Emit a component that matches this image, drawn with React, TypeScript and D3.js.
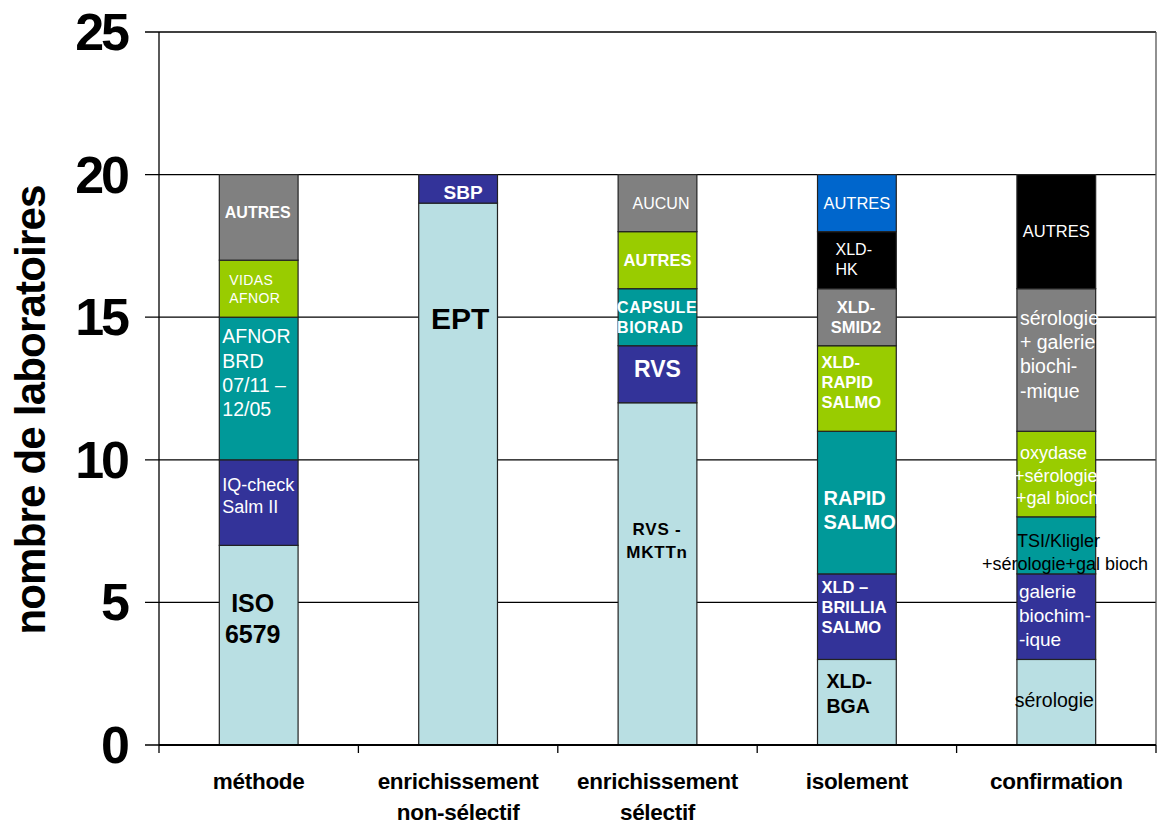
import React from "react";
import * as d3 from "d3";

// Stage categories along the x axis (tick labels, one entry per line)
const categoryLabels: string[][] = [
  ["méthode"],
  ["enrichissement", "non-sélectif"],
  ["enrichissement", "sélectif"],
  ["isolement"],
  ["confirmation"],
];

// Number of laboratories per option, stacked from bottom to top
const methodeCounts = [7, 3, 5, 2, 3];
const methodeNames = ["ISO 6579", "IQ-check Salm II", "AFNOR BRD 07/11 – 12/05", "VIDAS AFNOR", "AUTRES"];

const nonSelectifCounts = [19, 1];
const nonSelectifNames = ["EPT", "SBP"];

const selectifCounts = [12, 2, 2, 2, 2];
const selectifNames = ["RVS - MKTTn", "RVS", "CAPSULE BIORAD", "AUTRES", "AUCUN"];

const isolementCounts = [3, 3, 5, 3, 2, 2, 2];
const isolementNames = ["XLD-BGA", "XLD – BRILLIA SALMO", "RAPID SALMO", "XLD-RAPID SALMO", "XLD-SMID2", "XLD-HK", "AUTRES"];

const confirmationCounts = [3, 3, 2, 3, 5, 4];
const confirmationNames = [
  "sérologie",
  "galerie biochimique",
  "TSI/Kligler +sérologie+gal bioch",
  "oxydase +sérologie +gal bioch",
  "sérologie + galerie biochimique",
  "AUTRES",
];

const yTicks = [0, 5, 10, 15, 20, 25];

// Palette
const C = {
  light: "#B9DFE3",
  navy: "#333399",
  teal: "#009999",
  lime: "#99CC00",
  gray: "#808080",
  black: "#000000",
  blue: "#0066CC",
};

type LabelStyle = {
  lines: string[];
  anchor: "start" | "middle";
  dx: number; // from bar centre (middle) or bar left edge (start)
  dy: number; // first baseline below segment top
  lh?: number;
  size: number;
  bold?: boolean;
  fill: string;
  ls?: number;
  lineDx?: number[];
};

// Segment fill and wrapped label presentation, per stack
const stackColors: string[][] = [
  [C.light, C.navy, C.teal, C.lime, C.gray],
  [C.light, C.navy],
  [C.light, C.navy, C.teal, C.lime, C.gray],
  [C.light, C.navy, C.teal, C.lime, C.gray, C.black, C.blue],
  [C.light, C.navy, C.teal, C.lime, C.gray, C.black],
];

const W = "#FFFFFF";
const K = "#000000";

const stackLabels: LabelStyle[][] = [
  [
    { lines: ["ISO", "6579"], anchor: "middle", dx: -6, dy: 66.5, lh: 31, size: 25, bold: true, fill: K },
    { lines: ["IQ-check", "Salm II"], anchor: "start", dx: 3, dy: 31, lh: 22, size: 18, fill: W },
    { lines: ["AFNOR", "BRD", "07/11 –", "12/05"], anchor: "start", dx: 3, dy: 26, lh: 24.3, size: 19.5, fill: W },
    { lines: ["VIDAS", "AFNOR"], anchor: "start", dx: 10, dy: 25, lh: 17.5, size: 14, fill: W, ls: 0.4 },
    { lines: ["AUTRES"], anchor: "middle", dx: -1, dy: 43, size: 16, bold: true, fill: W },
  ],
  [
    { lines: ["EPT"], anchor: "middle", dx: 2, dy: 126, size: 30, bold: true, fill: K },
    { lines: ["SBP"], anchor: "middle", dx: 5, dy: 24.5, size: 19, bold: true, fill: W },
  ],
  [
    { lines: ["RVS -", "MKTTn"], anchor: "middle", dx: -0.5, dy: 132, lh: 23, size: 17, bold: true, fill: K, ls: 0.8 },
    { lines: ["RVS"], anchor: "middle", dx: 0, dy: 31, size: 23, bold: true, fill: W },
    { lines: ["CAPSULE", "BIORAD"], anchor: "start", dx: -1, dy: 24.5, lh: 20, size: 16, bold: true, fill: W, ls: 0.5 },
    { lines: ["AUTRES"], anchor: "middle", dx: 0, dy: 34.5, size: 16.5, bold: true, fill: W },
    { lines: ["AUCUN"], anchor: "middle", dx: 3.5, dy: 34.5, size: 16, fill: W },
  ],
  [
    { lines: ["XLD-", "BGA"], anchor: "start", dx: 9, dy: 28.6, lh: 25, size: 19.5, bold: true, fill: K },
    { lines: ["XLD –", "BRILLIA", "SALMO"], anchor: "start", dx: 4, dy: 19, lh: 20, size: 16.5, bold: true, fill: W },
    { lines: ["RAPID", "SALMO"], anchor: "start", dx: 6, dy: 73.7, lh: 24, size: 20, bold: true, fill: W },
    { lines: ["XLD-", "RAPID", "SALMO"], anchor: "start", dx: 4, dy: 22.3, lh: 20, size: 16.5, bold: true, fill: W },
    { lines: ["XLD-", "SMID2"], anchor: "middle", dx: -1, dy: 24.3, lh: 20, size: 16.5, bold: true, fill: W },
    { lines: ["XLD-", "HK"], anchor: "start", dx: 18, dy: 23.4, lh: 20, size: 16, fill: W },
    { lines: ["AUTRES"], anchor: "middle", dx: 0, dy: 34.4, size: 16.5, fill: W },
  ],
  [
    { lines: ["sérologie"], anchor: "middle", dx: -2, dy: 47.6, size: 19.5, fill: K },
    { lines: ["galerie", "biochim-", "-ique"], anchor: "start", dx: 2, dy: 24, lh: 24, size: 19, fill: W },
    { lines: ["TSI/Kligler", "+sérologie+gal bioch"], anchor: "start", dx: 0, dy: 30, lh: 23, size: 18, fill: K, lineDx: [0, -35] },
    { lines: ["oxydase", "+sérologie", "+gal bioch"], anchor: "start", dx: 3, dy: 28, lh: 22.5, size: 18, fill: W, lineDx: [0, -6, -4] },
    { lines: ["sérologie", "+ galerie", "biochi-", "-mique"], anchor: "start", dx: 3, dy: 36, lh: 24.3, size: 19.5, fill: W },
    { lines: ["AUTRES"], anchor: "middle", dx: 0, dy: 62.6, size: 16.5, fill: W },
  ],
];

const stackCounts = [methodeCounts, nonSelectifCounts, selectifCounts, isolementCounts, confirmationCounts];
const stackNames = [methodeNames, nonSelectifNames, selectifNames, isolementNames, confirmationNames];

const FONT = "'Liberation Sans', Arial, Helvetica, sans-serif";

export default function App() {
  const width = 1160;
  const height = 827;
  const plot = { left: 159, right: 1156, top: 32, bottom: 745 };

  const x = d3
    .scaleBand<number>()
    .domain(d3.range(categoryLabels.length))
    .range([plot.left, plot.right])
    .paddingInner(0.605)
    .paddingOuter(0.3025);

  const y = d3.scaleLinear().domain([0, 25]).range([plot.bottom, plot.top]);

  const bw = x.bandwidth();
  const step = x.step();

  const stacks = stackCounts.map((counts) => {
    const ends = d3.cumsum(counts);
    return counts.map((c, i) => ({ y0: ends[i] - c, y1: ends[i] }));
  });

  return (
    <svg
      width={width}
      height={height}
      style={{ position: "absolute", left: 0, top: 0, background: "#fff" }}
      fontFamily={FONT}
    >
      <rect x={0} y={0} width={width} height={height} fill="#fff" />

      {/* horizontal gridlines and plot frame */}
      {yTicks.map((t) => (
        <line key={"g" + t} x1={plot.left - 14} x2={plot.right} y1={y(t)} y2={y(t)} stroke="#000" strokeWidth={1.3} />
      ))}
      <line x1={plot.right} x2={plot.right} y1={plot.top} y2={plot.bottom} stroke="#555" strokeWidth={1.3} />
      <line x1={plot.left} x2={plot.left} y1={plot.top} y2={plot.bottom} stroke="#000" strokeWidth={1.3} />

      {/* stacked bars */}
      {stacks.map((segs, ci) => {
        const x0 = x(ci) as number;
        return (
          <g key={"b" + ci}>
            {segs.map((s, si) => (
              <rect
                key={si}
                x={x0}
                y={y(s.y1)}
                width={bw}
                height={y(s.y0) - y(s.y1)}
                fill={stackColors[ci][si]}
                stroke="#222"
                strokeWidth={1.2}
              >
                <title>{`${stackNames[ci][si]}: ${stackCounts[ci][si]}`}</title>
              </rect>
            ))}
          </g>
        );
      })}

      {/* segment labels */}
      {stacks.map((segs, ci) => {
        const x0 = x(ci) as number;
        const cx = x0 + bw / 2;
        return (
          <g key={"l" + ci}>
            {segs.map((s, si) => {
              const L = stackLabels[ci][si];
              const top = y(s.y1);
              const bx = L.anchor === "middle" ? cx + L.dx : x0 + L.dx;
              return (
                <text
                  key={si}
                  textAnchor={L.anchor}
                  fontSize={L.size}
                  fontWeight={L.bold ? "bold" : "normal"}
                  fill={L.fill}
                  letterSpacing={L.ls ?? 0}
                >
                  {L.lines.map((ln, li) => (
                    <tspan key={li} x={bx + (L.lineDx ? L.lineDx[li] : 0)} y={top + L.dy + li * (L.lh ?? 0)}>
                      {ln}
                    </tspan>
                  ))}
                </text>
              );
            })}
          </g>
        );
      })}

      {/* x axis baseline and category ticks */}
      <line x1={plot.left} x2={plot.right} y1={plot.bottom} y2={plot.bottom} stroke="#000" strokeWidth={2} />
      {d3.range(categoryLabels.length + 1).map((i) => {
        const tx = plot.left + i * step;
        return <line key={"t" + i} x1={tx} x2={tx} y1={plot.bottom} y2={plot.bottom + 8} stroke="#000" strokeWidth={1.3} />;
      })}

      {/* category labels */}
      {categoryLabels.map((lines, ci) => {
        const cx = (x(ci) as number) + bw / 2;
        return (
          <text key={"c" + ci} textAnchor="middle" fontSize={22.5} fontWeight="bold" fill="#000" letterSpacing={-0.3}>
            {lines.map((ln, li) => (
              <tspan key={li} x={cx} y={789 + li * 30.5}>
                {ln}
              </tspan>
            ))}
          </text>
        );
      })}

      {/* y tick labels */}
      {yTicks.map((t) => (
        <text
          key={"yl" + t}
          x={127}
          y={y(t) + 18}
          textAnchor="end"
          fontSize={52}
          fontWeight="bold"
          fill="#000"
          letterSpacing={-3}
        >
          {t}
        </text>
      ))}

      {/* y axis title */}
      <text
        transform={`translate(45, 410) rotate(-90)`}
        textAnchor="middle"
        fontSize={42}
        fontWeight="bold"
        fill="#000"
        letterSpacing={-0.8}
      >
        nombre de laboratoires
      </text>
    </svg>
  );
}
